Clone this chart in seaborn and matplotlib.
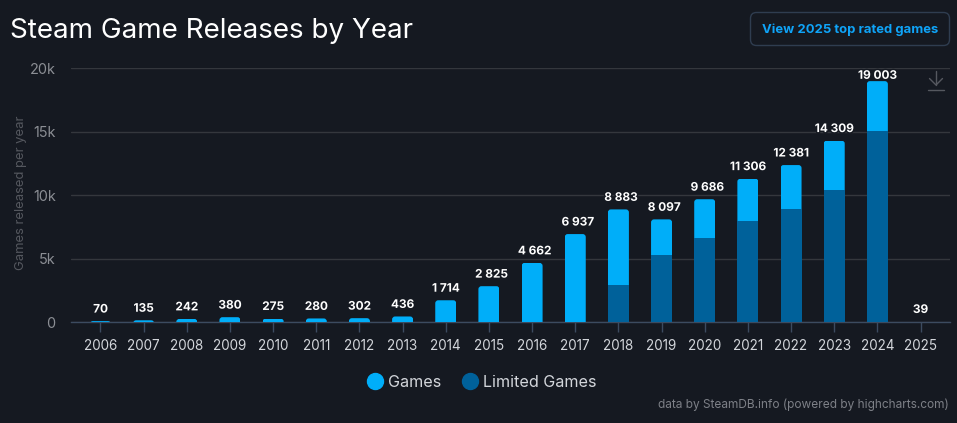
import matplotlib
matplotlib.use('Agg')
import matplotlib.pyplot as plt
import matplotlib.patheffects as pe
from matplotlib.lines import Line2D
from matplotlib.patches import FancyBboxPatch
from matplotlib.transforms import Affine2D, IdentityTransform
import seaborn as sns

# Data
years = ['2006', '2007', '2008', '2009', '2010', '2011', '2012', '2013', '2014', '2015',
         '2016', '2017', '2018', '2019', '2020', '2021', '2022', '2023', '2024', '2025']
total_games = [70, 135, 242, 380, 275, 280, 302, 436, 1714, 2825,
               4662, 6937, 8883, 8097, 9686, 11306, 12381, 14309, 19003, 39]
limited_games = [0, 0, 0, 0, 0, 0, 0, 0, 0, 0,
                 0, 0, 2920, 5290, 6630, 7970, 8920, 10410, 15070, 39]
value_labels = ['70', '135', '242', '380', '275', '280', '302', '436', '1 714', '2 825',
                '4 662', '6 937', '8 883', '8 097', '9 686', '11 306', '12 381', '14 309',
                '19 003', '39']
y_ticks = [0, 5000, 10000, 15000, 20000]
y_tick_labels = ['0', '5k', '10k', '15k', '20k']

BG = '#151921'
LIGHT = '#00aef9'
DARK = '#00619a'
W, H = 957, 423

sns.set_theme(style='dark')
plt.rcParams['font.family'] = ['Inter', 'DejaVu Sans']

fig = plt.figure(figsize=(W / 100, H / 100), dpi=100, facecolor=BG)
ax = fig.add_axes([71 / W, (H - 322) / H, (950 - 71) / W, (322 - 68.5) / H])
ax.set_facecolor(BG)

# pixel coords, origin top left
px = Affine2D().scale(1, -1).translate(0, H) + IdentityTransform()

sns.barplot(x=years, y=total_games, color=LIGHT, saturation=1, width=0.487,
            linewidth=0, ax=ax, zorder=3)
sns.barplot(x=years, y=limited_games, color=DARK, saturation=1, width=0.487,
            linewidth=0, ax=ax, zorder=3)

ax.set_xlim(-0.683, 19.683)
ax.set_ylim(0, 20000)
ax.set_yticks(y_ticks)
ax.set_yticklabels(y_tick_labels)
ax.set_xlabel('')
ax.set_ylabel('')
ax.grid(axis='y', color='#34373d', linewidth=1, zorder=0)
ax.grid(axis='x', visible=False)
ax.set_axisbelow(True)
ax.spines[['top', 'right', 'left']].set_visible(False)
ax.spines['bottom'].set_color('#3c4b60')
ax.spines['bottom'].set_linewidth(1)
ax.tick_params(axis='x', length=7.2, width=1, color='#3c4b60', labelcolor='#d3d6db',
               labelsize=9.7, pad=5, bottom=True)
ax.tick_params(axis='y', length=0, labelcolor='#8b8e94', labelsize=10.4, pad=11)

# rounded top corners on the light bars, dark ones stay flat where they meet them
fig.canvas.draw()
for bar in ax.containers[0]:
    bb = bar.get_window_extent()
    if bb.height < 0.8:
        continue
    clip = FancyBboxPatch((bb.x0, bb.y0 - 6), bb.width, bb.height + 6,
                          boxstyle='round,pad=0,rounding_size=3',
                          transform=IdentityTransform())
    bar.set_clip_path(clip)

# value labels above each bar
labels = ax.bar_label(ax.containers[0], labels=value_labels, padding=4, color='white',
                      fontsize=8.5, fontweight='bold', zorder=5,
                      path_effects=[pe.withStroke(linewidth=2, foreground=BG)])
for lab, text in zip(labels, value_labels):
    if len(text) == 5 and text != '1 714':
        lab.xyann = (1.8, 4)
labels[18].xyann = (0, -0.5)

# title, axis title, footer
fig.text(10 / W, 1 - 31 / H, 'Steam Game Releases by Year', color='white', fontsize=20,
         va='center', ha='left')
fig.text(21 / W, 1 - 193 / H, 'Games released per year', color='#55585f', fontsize=9.4,
         rotation=90, va='center', ha='center')
fig.text(949 / W, 1 - 405 / H, 'data by SteamDB.info (powered by highcharts.com)',
         color='#7d8087', fontsize=8.55, va='center', ha='right')

# button top right
fig.add_artist(FancyBboxPatch((750.5, 12.5), 199, 33, boxstyle='round,pad=0,rounding_size=6',
                              facecolor=BG, edgecolor='#2f3d50', linewidth=1, transform=px))
fig.text(850 / W, 1 - 29.5 / H, 'View 2025 top rated games', color='#0fa4f8', fontsize=9.4,
         fontweight='bold', va='center', ha='center')

# download icon
for xs, ys in [([928, 944], [89.5, 89.5]), ([936, 936], [71, 85]),
               ([929.5, 936, 942.5], [78.5, 85, 78.5])]:
    fig.add_artist(Line2D(xs, ys, color='#55585f', linewidth=1, transform=px))

# legend
handles = [Line2D([], [], linestyle='none', marker='o', markersize=11.5, color=LIGHT),
           Line2D([], [], linestyle='none', marker='o', markersize=11.5, color=DARK)]
fig.legend(handles, ['Games', 'Limited Games'], loc='center', ncol=2, frameon=False,
           bbox_to_anchor=(477.5 / W, 1 - 382.5 / H), fontsize=11.6, labelcolor='#d3d6db',
           handletextpad=-0.2, columnspacing=0.8, borderpad=0)

fig.savefig('out.png', dpi=100, facecolor=BG)
